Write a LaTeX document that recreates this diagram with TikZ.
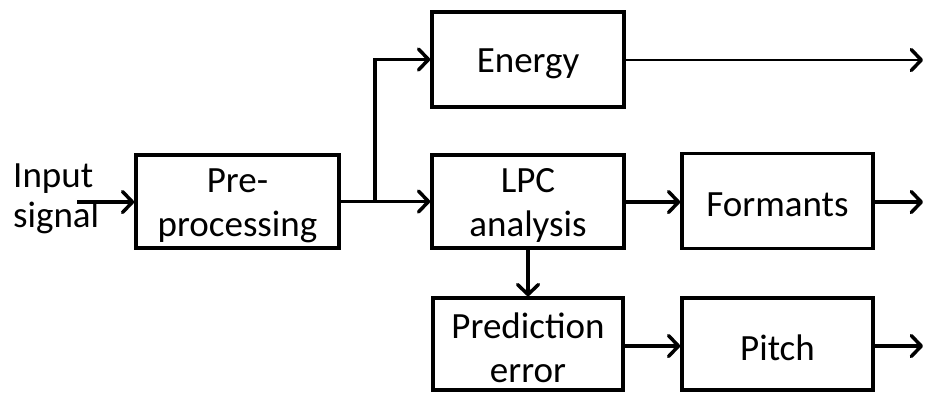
\documentclass[tikz,border=0pt]{standalone}
\usepackage{fontspec}
\setmainfont{Carlito}
\usetikzlibrary{arrows.meta}
\begin{document}
\begin{tikzpicture}[x=1pt,y=-1pt,
  txt/.style={font=\fontsize{37}{44}\selectfont,align=center,yshift=-4pt},
  blk/.style={draw=black,line width=3.5pt,fill=white,minimum width=#1,inner sep=0pt},
  tip/.style={-{Straight Barb[length=10pt,width=21pt,line width=3.5pt,round]}},
  conn/.style={line width=3.5pt,tip},
  thinconn/.style={line width=2.5pt,tip}]
\useasboundingbox (0,0) rectangle (926,392);
\node[blk=203pt,minimum height=93pt,label={[txt,name=pret]center:Pre-\\processing}] (pre) at (237.5,201.5) {};
\node[blk=192pt,minimum height=95pt,label={[txt,name=energyt]center:Energy}] (energy) at (528,59.5) {};
\node[blk=192pt,minimum height=93pt,label={[txt,name=lpct]center:LPC\\analysis}] (lpc) at (528,201.5) {};
\node[blk=191pt,minimum height=95pt,label={[txt,name=formt]center:Formants}] (form) at (777.5,201) {};
\node[blk=190pt,minimum height=92pt,label={[txt,name=predt]center:Prediction\\error}] (pred) at (528,344) {};
\node[blk=191pt,minimum height=92pt,label={[txt,name=pitcht]center:Pitch}] (pitch) at (777.5,344) {};
\node[anchor=north west,align=left,inner sep=0pt,font=\fontsize{37}{40}\selectfont] (inp) at (13,164) {Input\\signal};
\coordinate (instart) at (77,202);
\coordinate (br) at (375,201.5);
\coordinate (eout) at (923,60);
\coordinate (fout) at (923,202);
\coordinate (pout) at (923,346);
\draw[conn] (instart) -- (pre.west |- instart);
\draw[conn] (pre.east) -- (lpc.west);
\draw[conn] (br) |- (energy.west);
\draw[thinconn] (energy.east |- eout) -- (eout);
\draw[conn] (lpc.east |- fout) -- (form.west |- fout);
\draw[conn] (form.east |- fout) -- (fout);
\draw[conn] (lpc.south) -- (pred.north);
\draw[conn] (pred.east |- pout) -- (pitch.west |- pout);
\draw[conn] (pitch.east |- pout) -- (pout);
\end{tikzpicture}
\end{document}
